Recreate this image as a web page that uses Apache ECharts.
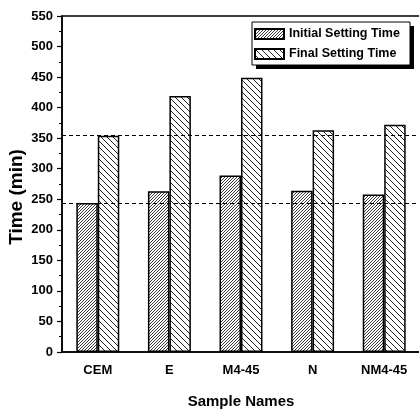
<!DOCTYPE html>
<html>
<head>
<meta charset="utf-8">
<script src="https://cdn.jsdelivr.net/npm/echarts@6/dist/echarts.min.js"></script>
<style>html,body{margin:0;padding:0;background:#fff}#c{width:419px;height:409px}</style>
</head>
<body>
<div id="c"></div>
<script>
const categories = ['CEM', 'E', 'M4-45', 'N', 'NM4-45'];
const initialSetting = [244, 263, 289, 264, 258];
const finalSetting = [354, 419, 449, 363, 372];
const referenceLines = [244, 354];
const seriesNames = ['Initial Setting Time', 'Final Setting Time'];

const FONT = "'Liberation Sans', Arial, sans-serif";

function hatch(period, forward, lw) {
  const c = document.createElement('canvas');
  c.width = period; c.height = period;
  const g = c.getContext('2d');
  g.fillStyle = '#fff'; g.fillRect(0, 0, period, period);
  g.strokeStyle = '#222'; g.lineWidth = lw;
  g.beginPath();
  for (let k = -1; k <= 1; k++) {
    if (forward) {
      g.moveTo(k * period - 1, period + 1); g.lineTo(k * period + period + 1, -1);
    } else {
      g.moveTo(k * period - 1, -1); g.lineTo(k * period + period + 1, period + 1);
    }
  }
  g.stroke();
  return { image: c, repeat: 'repeat' };
}

const chart = echarts.init(document.getElementById('c'));
chart.setOption({
  animation: false,
  backgroundColor: '#fff',
  grid: { left: 62, right: -1, top: 16, bottom: 57, outerBoundsMode: 'none', containLabel: false,
          show: true, borderColor: '#000', borderWidth: 1.5, backgroundColor: 'transparent' },
  graphic: [
    { type: 'rect', z: 1, shape: { x: 256, y: 26, width: 158, height: 43 }, style: { fill: '#000' } },
    { type: 'rect', z: 2, shape: { x: 252, y: 22, width: 158, height: 43 }, style: { fill: '#fff', stroke: '#000', lineWidth: 1 } },
    { type: 'text', z: 3, x: 17, y: 197, rotation: Math.PI / 2,
      style: { text: 'Time (min)', fontFamily: FONT, fontWeight: 'bold', fontSize: 19, fill: '#000', align: 'center', verticalAlign: 'middle' } }
  ],
  legend: {
    orient: 'vertical', left: 254, top: 27, z: 10, icon: 'rect',
    itemWidth: 29, itemHeight: 10, itemGap: 6, padding: 0,
    textStyle: { fontFamily: FONT, fontWeight: 'bold', fontSize: 12.5, lineHeight: 14, color: '#000' },
    data: seriesNames
  },
  xAxis: [{
    type: 'category', data: categories,
    name: 'Sample Names', nameLocation: 'middle', nameGap: 42,
    nameTextStyle: { fontFamily: FONT, fontWeight: 'bold', fontSize: 15, color: '#000' },
    axisLine: { lineStyle: { color: '#000', width: 1.5 } },
    axisTick: { alignWithLabel: true, length: 5, lineStyle: { color: '#000', width: 1.2 } },
    axisLabel: { margin: 12, fontFamily: FONT, fontWeight: 'bold', fontSize: 13, color: '#000' }
  }, {
    type: 'category', data: categories, position: 'bottom',
    axisLine: { show: false },
    axisTick: { length: 3, lineStyle: { color: '#000', width: 1 } },
    axisLabel: { show: false }
  }],
  yAxis: {
    type: 'value', min: 0, max: 550, interval: 50,
    axisLine: { show: true, lineStyle: { color: '#000', width: 1.5 } },
    axisTick: { show: true, length: 5, lineStyle: { color: '#000', width: 1.2 } },
    minorTick: { show: true, splitNumber: 2, length: 3, lineStyle: { color: '#000', width: 1 } },
    splitLine: { show: false },
    axisLabel: { margin: 9, fontFamily: FONT, fontWeight: 'bold', fontSize: 13, color: '#000' }
  },
  series: [{
    name: seriesNames[0], type: 'bar', data: initialSetting,
    barWidth: '30%', barGap: '0%',
    itemStyle: { color: hatch(3, true, 0.9), borderColor: '#000', borderWidth: 1.5 },
    markLine: {
      silent: true, symbol: 'none', label: { show: false },
      lineStyle: { color: '#000', type: [4, 3], width: 1 },
      data: referenceLines.map(v => ({ yAxis: v }))
    }
  }, {
    name: seriesNames[1], type: 'bar', data: finalSetting,
    barWidth: '30%', barGap: '0%',
    itemStyle: { color: hatch(6, false, 1), borderColor: '#000', borderWidth: 1.5 }
  }]
});
</script>
</body>
</html>
